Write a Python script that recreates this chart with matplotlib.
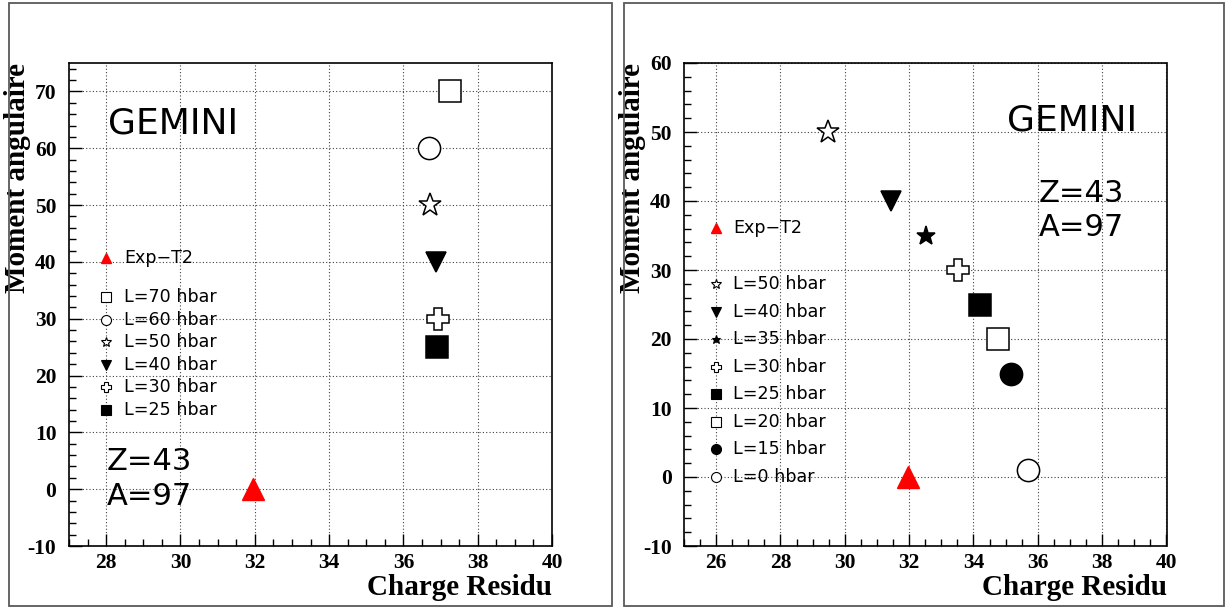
import matplotlib
matplotlib.use("Agg")
import matplotlib.pyplot as plt
from matplotlib.patches import Rectangle
from matplotlib.ticker import MultipleLocator

plt.rcParams['font.family'] = ['DejaVu Sans']
plt.rcParams['axes.unicode_minus'] = False

# --- donnees ---
exp_z = 31.95
exp_l = 0.0

# panneau gauche
left_labels = ["L=70 hbar", "L=60 hbar", "L=50 hbar", "L=40 hbar", "L=30 hbar", "L=25 hbar"]
left_z = [37.25, 36.7, 36.72, 36.88, 36.93, 36.91]
left_l = [70, 60, 50, 40, 30, 25]

# panneau droit
right_labels = ["L=50 hbar", "L=40 hbar", "L=35 hbar", "L=30 hbar", "L=25 hbar",
                "L=20 hbar", "L=15 hbar", "L=0 hbar"]
right_z = [29.48, 31.42, 32.51, 33.52, 34.19, 34.75, 35.16, 35.68]
right_l = [50, 40, 35, 30, 25, 20, 15, 1]

# styles de marqueurs (marker, rempli, taille)
STYLES = {
    "L=70 hbar": ("s", False, 16),
    "L=60 hbar": ("o", False, 16),
    "L=50 hbar": ("*", False, 17),
    "L=40 hbar": ("v", True, 15),
    "L=35 hbar": ("*", True, 14),
    "L=30 hbar": ("P", False, 16),
    "L=25 hbar": ("s", True, 16),
    "L=20 hbar": ("s", False, 16),
    "L=15 hbar": ("o", True, 16),
    "L=0 hbar": ("o", False, 16),
}

SERIF = ['Liberation Serif', 'DejaVu Serif']


def draw_marker(ax, x, y, marker, filled, ms, **kw):
    ax.plot([x], [y], linestyle='none', marker=marker, markersize=ms,
            markerfacecolor='black' if filled else 'white',
            markeredgecolor='black', markeredgewidth=1.1, **kw)


def style_axes(ax, xlim, ylim):
    ax.set_xlim(*xlim)
    ax.set_ylim(*ylim)
    ax.xaxis.set_major_locator(MultipleLocator(2))
    ax.xaxis.set_minor_locator(MultipleLocator(0.5))
    ax.yaxis.set_major_locator(MultipleLocator(10))
    ax.yaxis.set_minor_locator(MultipleLocator(2))
    ax.tick_params(which='both', direction='in', top=False, right=False)
    ax.tick_params(which='major', length=9, width=1)
    ax.tick_params(which='minor', length=5, width=1)
    ax.tick_params(axis='x', pad=5)
    ax.tick_params(axis='y', pad=9)
    for lab in ax.get_xticklabels() + ax.get_yticklabels():
        lab.set_fontfamily(SERIF)
        lab.set_fontweight('bold')
        lab.set_fontsize(15.5)
    ax.grid(True, which='major', linestyle=(0, (1, 2)), color='0.25', linewidth=0.8)
    for sp in ax.spines.values():
        sp.set_linewidth(1.2)
    ax.set_xlabel("Charge Residu", fontfamily=SERIF, fontweight='bold', fontsize=21,
                  loc='right')
    ax.xaxis.set_label_coords(1.0, -0.057)
    ax.set_ylabel("Moment angulaire", fontfamily=SERIF, fontweight='bold', fontsize=21,
                  loc='top')
    ax.yaxis.set_label_coords(-0.079, 1.0)


def draw_legend(ax, labels, x0, y_exp, y0, dy):
    # legende a la ROOT : petits marqueurs + texte
    ax.plot([x0], [y_exp], transform=ax.transAxes, linestyle='none', marker='^',
            markersize=7, color='red', clip_on=False)
    ax.text(x0 + 0.036, y_exp, "Exp\u2212T2", transform=ax.transAxes, va='center',
            ha='left', fontsize=12.6)
    for i, lab in enumerate(labels):
        marker, filled, ms = STYLES[lab]
        y = y0 - i * dy
        ax.plot([x0], [y], transform=ax.transAxes, linestyle='none', marker=marker,
                markersize=ms * 0.45, markerfacecolor='black' if filled else 'white',
                markeredgecolor='black', markeredgewidth=0.8, clip_on=False)
        ax.text(x0 + 0.036, y, lab, transform=ax.transAxes, va='center', ha='left',
                fontsize=12.6)


fig = plt.figure(figsize=(12.27, 6.08), dpi=100)

# cadres des deux pads
fig.add_artist(Rectangle((9 / 1227, 2 / 608), 603 / 1227, 603 / 608,
                         transform=fig.transFigure, fill=False, ec='0.35', lw=1.3))
fig.add_artist(Rectangle((624 / 1227, 2 / 608), 600 / 1227, 603 / 608,
                         transform=fig.transFigure, fill=False, ec='0.35', lw=1.3))

# --- panneau gauche ---
axl = fig.add_axes([69 / 1227, 62 / 608, 483 / 1227, 483 / 608])
for lab, z, l in zip(left_labels, left_z, left_l):
    marker, filled, ms = STYLES[lab]
    draw_marker(axl, z, l, marker, filled, ms)
axl.plot([exp_z], [exp_l], linestyle='none', marker='^', markersize=16, color='red')
style_axes(axl, (27, 40), (-10, 75))
draw_legend(axl, left_labels, 0.0775, 0.597, 0.515, 0.0467)
axl.text(0.08, 0.875, "GEMINI", transform=axl.transAxes, fontsize=26, va='center')
axl.text(0.078, 0.175, "Z=43", transform=axl.transAxes, fontsize=22, va='center')
axl.text(0.078, 0.103, "A=97", transform=axl.transAxes, fontsize=22, va='center')

# --- panneau droit ---
axr = fig.add_axes([684 / 1227, 62 / 608, 482.5 / 1227, 483 / 608])
for lab, z, l in zip(right_labels, right_z, right_l):
    marker, filled, ms = STYLES[lab]
    draw_marker(axr, z, l, marker, filled, ms)
axr.plot([exp_z], [exp_l], linestyle='none', marker='^', markersize=16, color='red')
style_axes(axr, (25, 40), (-10, 60))
draw_legend(axr, right_labels, 0.0665, 0.658, 0.542, 0.057)
axr.text(0.67, 0.88, "GEMINI", transform=axr.transAxes, fontsize=26, va='center')
axr.text(0.735, 0.73, "Z=43", transform=axr.transAxes, fontsize=22, va='center')
axr.text(0.735, 0.66, "A=97", transform=axr.transAxes, fontsize=22, va='center')

fig.savefig("out.png", dpi=100)
